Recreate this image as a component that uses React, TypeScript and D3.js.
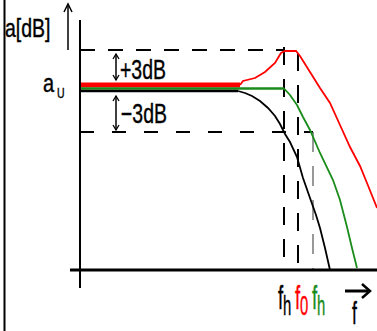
import { useEffect, useRef } from 'react';
import * as d3 from 'd3';

// chart units: x = frequency position, y = level (origin where the axes cross)
const redFlat: [number, number][] = [[0, 185], [160, 185]];
const redCurve: [number, number][] = [
  [160, 185], [163, 189], [175, 192], [185, 198], [195, 207], [201, 217], [205, 219],
  [216, 219], [220, 214], [230, 198], [240, 182], [250, 167], [260, 145], [270, 123],
  [280, 104], [287, 87], [297, 62]
];
const greenFlat: [number, number][] = [[0, 181.5], [204, 181.5]];
const greenCurve: [number, number][] = [
  [204, 181.5], [210, 175], [217, 165], [223, 153], [230, 140], [240, 117], [253, 90],
  [260, 70], [267, 43], [272, 22], [277, 2]
];
const blackFlat: [number, number][] = [[0, 179], [158, 179]];
const blackCurve: [number, number][] = [
  [158, 179], [165, 177], [172, 174], [180, 169], [188, 162], [195, 154], [200, 146],
  [205, 136], [210, 128], [217, 113], [223, 92], [230, 72], [236, 55], [240, 42],
  [245, 22], [250, 0]
];

const upperLevel = 220; // +3dB
const lowerLevel = 138; // -3dB
const cutoffX = [204, 218, 233];
const cutoffTop = [223, 217, 138];
const cutoffSub = ['h', '0', 'h'];
const cutoffColor = ['#000', '#ff0000', '#1a8c1a'];

export default function App() {
  const ref = useRef<SVGSVGElement>(null);

  useEffect(() => {
    if (!ref.current) return;
    const svg = d3.select(ref.current);
    svg.selectAll('*').remove();

    const x = d3.scaleLinear().domain([0, 300]).range([80, 380]);
    const y = d3.scaleLinear().domain([0, 220]).range([270, 50]);
    const line = d3.line<[number, number]>().x(d => x(d[0])).y(d => y(d[1]));

    const font = 'Liberation Sans, Arial, sans-serif';
    const txt = (s: string, px: number, py: number, size: number, sx: number, color = '#000') =>
      svg.append('text')
        .attr('transform', `translate(${px},${py}) scale(${sx},1)`)
        .attr('font-family', font)
        .attr('font-size', size)
        .attr('fill', color)
        .attr('stroke', color)
        .attr('stroke-width', 0.4)
        .text(s);

    // frame line at the left
    svg.append('line').attr('x1', 4.5).attr('x2', 4.5).attr('y1', 0).attr('y2', 331)
      .attr('stroke', '#000').attr('stroke-width', 2);

    // dashed level lines
    svg.append('line')
      .attr('x1', x(0)).attr('x2', x(205)).attr('y1', y(upperLevel)).attr('y2', y(upperLevel))
      .attr('stroke', '#000').attr('stroke-width', 2).attr('stroke-dasharray', '15,13');
    svg.append('line')
      .attr('x1', x(0)).attr('x2', x(233)).attr('y1', y(lowerLevel)).attr('y2', y(lowerLevel))
      .attr('stroke', '#000').attr('stroke-width', 2).attr('stroke-dasharray', '14,18');

    // cutoff verticals
    cutoffX.forEach((c, i) => {
      svg.append('line')
        .attr('x1', x(c)).attr('x2', x(c)).attr('y1', y(cutoffTop[i])).attr('y2', y(0))
        .attr('stroke', i === 2 ? '#555' : '#000').attr('stroke-width', i === 2 ? 1.2 : 2)
        .attr('stroke-dasharray', i === 2 ? '20,14' : '18,14');
    });

    // curves
    svg.append('path').attr('d', line(redFlat)).attr('fill', 'none').attr('stroke', '#ff0000').attr('stroke-width', 5);
    svg.append('path').attr('d', line(greenFlat)).attr('fill', 'none').attr('stroke', '#1a8c1a').attr('stroke-width', 2.5);
    svg.append('path').attr('d', line(blackFlat)).attr('fill', 'none').attr('stroke', '#000').attr('stroke-width', 2.5);
    svg.append('path').attr('d', line(redCurve)).attr('fill', 'none').attr('stroke', '#ff0000').attr('stroke-width', 1.8);
    svg.append('path').attr('d', line(greenCurve)).attr('fill', 'none').attr('stroke', '#1a8c1a').attr('stroke-width', 1.8);
    svg.append('path').attr('d', line(blackCurve)).attr('fill', 'none').attr('stroke', '#000').attr('stroke-width', 1.8);

    // axes
    svg.append('line').attr('x1', x(0)).attr('x2', x(0)).attr('y1', y(-18)).attr('y2', y(250))
      .attr('stroke', '#000').attr('stroke-width', 2);
    svg.append('line').attr('x1', x(-10)).attr('x2', x(297)).attr('y1', y(0)).attr('y2', y(0))
      .attr('stroke', '#000').attr('stroke-width', 3);

    // y label with arrow
    txt('a[dB]', 5, 37, 25, 0.78);
    svg.append('line').attr('x1', 68).attr('x2', 68).attr('y1', 6).attr('y2', 50)
      .attr('stroke', '#000').attr('stroke-width', 1.5);
    svg.append('path').attr('d', 'M64,12 L68,4 L72,12').attr('fill', 'none').attr('stroke', '#000').attr('stroke-width', 1.5);

    txt('a', 43, 92, 25, 0.8);
    txt('U', 57, 98, 15, 0.7);

    // +3dB / -3dB markers
    const ax = 116;
    const dbl = (y1: number, y2: number) => {
      svg.append('line').attr('x1', ax).attr('x2', ax).attr('y1', y1).attr('y2', y2)
        .attr('stroke', '#000').attr('stroke-width', 1.5);
      svg.append('path').attr('d', `M${ax - 3},${y1 + 5} L${ax},${y1} L${ax + 3},${y1 + 5}`)
        .attr('fill', 'none').attr('stroke', '#000').attr('stroke-width', 1.3);
      svg.append('path').attr('d', `M${ax - 3},${y2 - 5} L${ax},${y2} L${ax + 3},${y2 - 5}`)
        .attr('fill', 'none').attr('stroke', '#000').attr('stroke-width', 1.3);
    };
    dbl(y(upperLevel) + 4, y(185) - 5);
    dbl(y(179) + 5, y(lowerLevel) - 2);
    txt('+3dB', 120, 79, 27, 0.72);
    txt('\u22123dB', 121, 123, 27, 0.72);

    // cutoff labels
    const labelDx = [-6, -3, -1];
    cutoffX.forEach((c, i) => {
      const px = x(c) + labelDx[i];
      txt('f', px, 309, 34, 0.55, cutoffColor[i]);
      txt(cutoffSub[i], px + 5, 315, 27, 0.55, cutoffColor[i]);
    });

    // frequency arrow
    svg.append('line').attr('x1', 345).attr('x2', 368).attr('y1', 291).attr('y2', 291)
      .attr('stroke', '#000').attr('stroke-width', 3);
    svg.append('path').attr('d', 'M362,284 L370,291 L362,298').attr('fill', 'none')
      .attr('stroke', '#000').attr('stroke-width', 2.5);
    txt('f', 352, 324, 32, 0.55);
  }, []);

  return (
    <svg ref={ref} width={377} height={331}
      style={{ position: 'absolute', left: 0, top: 0, background: '#fff' }} />
  );
}
